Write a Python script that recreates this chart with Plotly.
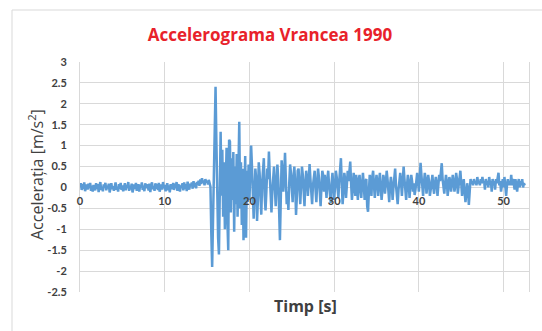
import plotly.graph_objects as go

# ---------------- data ----------------
DT = 0.1  # sampling step [s]
acc = [
    # 0 - 4.9 s
    0.02, 0.10, -0.06, 0.08, -0.04, 0.12, -0.09, 0.03, 0.07, -0.05,
    0.09, -0.02, 0.11, -0.08, 0.04, -0.10, 0.06, 0.01, -0.07, 0.10,
    -0.03, 0.08, -0.11, 0.05, 0.13, -0.06, 0.02, -0.09, 0.07, 0.00,
    0.11, -0.07, 0.04, -0.02, 0.09, -0.12, 0.06, 0.10, -0.04, 0.03,
    -0.08, 0.07, 0.12, -0.05, 0.01, -0.10, 0.08, -0.03, 0.11, -0.06,
    # 5 - 9.9 s
    0.05, -0.09, 0.02, 0.10, -0.07, 0.06, -0.01, 0.13, -0.08, 0.04,
    -0.05, 0.09, -0.12, 0.03, 0.07, -0.04, 0.11, -0.08, 0.01, 0.08,
    -0.10, 0.06, 0.00, 0.12, -0.06, 0.04, -0.09, 0.10, -0.02, 0.07,
    0.03, -0.07, 0.09, -0.11, 0.05, 0.12, -0.04, 0.02, -0.08, 0.10,
    -0.03, 0.08, -0.06, 0.11, -0.10, 0.04, 0.07, -0.05, 0.13, -0.02,
    # 10 - 14.9 s
    0.06, -0.09, 0.03, 0.10, -0.07, 0.05, -0.12, 0.08, 0.01, -0.04,
    0.11, -0.06, 0.09, -0.02, 0.13, -0.08, 0.04, 0.07, -0.10, 0.05,
    -0.01, 0.10, -0.07, 0.12, -0.04, 0.08, -0.09, 0.14, 0.02, -0.05,
    0.09, 0.03, 0.12, -0.03, 0.15, 0.01, 0.10, -0.02, 0.13, 0.06,
    0.16, 0.04, 0.19, 0.08, 0.22, 0.11, 0.17, 0.05, 0.20, 0.12,
    # 15 - 19.9 s
    0.15, 0.07, 0.18, 0.10, 0.02, -1.10, -1.90, -0.80, 0.60, 1.70,
    2.41, 1.10, -0.50, -1.20, -1.60, 0.30, 1.33, -0.20, 0.90, -0.70,
    0.60, -1.00, 0.40, 0.95, -0.80, -1.50, 1.14, 1.10, -0.60, 0.70,
    -0.30, 0.85, -1.06, 0.50, -0.40, 0.80, -0.70, 1.20, 1.57, -0.50,
    0.60, -0.90, 0.45, -1.26, 0.30, 0.75, -1.20, 0.40, -0.35, 0.55,
    # 20 - 24.9 s
    -0.30, 0.40, 1.00, 0.50, -0.40, -0.75, -0.20, 0.45, 0.20, -0.80,
    -0.30, 0.60, 0.35, -0.45, -0.65, 0.10, 0.50, 0.70, -0.20, -0.55,
    -0.10, 0.45, 0.20, 0.86, 0.30, -0.40, -0.60, -0.10, 0.40, 0.50,
    0.00, -0.45, 0.10, 0.55, 0.20, -0.70, -1.26, -0.30, 0.65, 0.40,
    -0.10, 0.30, 0.83, 0.20, -0.40, -0.10, -0.54, 0.10, 0.55, 0.35,
    # 25 - 29.9 s
    -0.20, -0.35, 0.25, 0.50, 0.10, -0.66, -0.20, 0.40, 0.45, -0.10,
    -0.40, 0.05, 0.50, 0.30, -0.25, -0.45, 0.10, 0.40, 0.20, -0.20,
    0.15, 0.56, 0.20, -0.30, -0.40, 0.05, 0.35, 0.40, -0.05, -0.35,
    0.10, 0.45, 0.25, -0.20, -0.45, 0.00, 0.40, 0.30, -0.10, 0.30,
    0.10, -0.25, 0.20, 0.40, 0.05, -0.30, -0.37, 0.10, 0.35, 0.05,
    # 30 - 34.9 s
    -0.30, 0.00, 0.40, 0.25, -0.10, -0.25, 0.15, 0.45, 0.70, 0.10,
    -0.40, -0.10, 0.35, 0.20, -0.25, 0.05, 0.40, 0.15, 0.45, 0.62,
    0.10, -0.30, -0.05, 0.35, 0.15, -0.20, 0.30, 0.05, -0.30, 0.20,
    0.30, -0.05, -0.25, 0.10, 0.35, 0.05, -0.30, 0.15, 0.20, -0.45,
    -0.58, -0.10, 0.30, 0.15, -0.20, 0.25, 0.40, 0.05, -0.25, 0.10,
    # 35 - 39.9 s
    0.30, 0.10, -0.20, 0.15, 0.35, 0.00, -0.30, -0.05, 0.30, 0.20,
    -0.15, 0.10, 0.40, 0.20, -0.20, -0.35, 0.05, 0.25, 0.05, -0.30,
    0.00, 0.35, 0.45, 0.05, -0.25, -0.40, -0.05, 0.25, 0.35, 0.10,
    -0.20, 0.15, 0.50, 0.20, -0.15, -0.30, 0.05, 0.30, 0.10, -0.25,
    0.05, 0.30, 0.15, -0.10, 0.10, -0.18, -0.05, 0.20, 0.35, 0.15,
    # 40 - 44.9 s
    -0.10, 0.20, 0.59, 0.30, -0.05, -0.20, 0.10, 0.35, 0.20, -0.15,
    0.05, 0.30, 0.15, -0.20, -0.05, 0.25, 0.30, 0.00, -0.15, 0.10,
    0.25, 0.10, -0.20, 0.05, 0.30, 0.15, 0.40, 0.58, 0.20, -0.05,
    -0.15, 0.10, 0.30, 0.15, -0.20, 0.00, 0.25, 0.15, -0.10, 0.10,
    0.30, 0.15, -0.10, 0.05, 0.35, 0.20, -0.15, 0.05, 0.25, 0.40,
    # 45 - 49.9 s
    0.10, -0.20, 0.05, 0.20, -0.10, -0.35, -0.15, 0.10, -0.05, -0.42,
    -0.10, 0.20, 0.10, 0.15, 0.05, 0.20, 0.10, 0.15, 0.05, 0.25,
    0.10, 0.15, 0.05, 0.20, 0.10, 0.25, 0.10, 0.15, -0.05, 0.20,
    0.10, 0.15, 0.00, 0.25, 0.10, 0.15, -0.10, 0.20, 0.10, 0.15,
    -0.05, 0.20, 0.10, 0.25, 0.35, 0.05, 0.15, -0.10, 0.10, 0.20,
    # 50 - 52.5 s
    0.00, 0.25, 0.05, -0.20, 0.05, 0.20, 0.05, 0.15, 0.05, 0.30,
    0.05, 0.20, 0.10, -0.05, 0.20, 0.05, -0.10, 0.10, 0.20, 0.00,
    0.15, 0.05, 0.20, 0.00, 0.10, 0.05,
]
time = [round(i * DT, 2) for i in range(len(acc))]

x_ticks = [0, 10, 20, 30, 40, 50]
x_tick_labels = ["0", "10", "20", "30", "40", "50"]
y_ticks = [3, 2.5, 2, 1.5, 1, 0.5, 0, -0.5, -1, -1.5, -2, -2.5]
y_tick_labels = ["3", "2.5", "2", "1.5", "1", "0.5", "0", "-0.5", "-1", "-1.5", "-2", "-2.5"]

title_text = "Accelerograma Vrancea 1990"
x_title = "Timp [s]"
y_title = "Accelerația [m/s<sup>2</sup>]"

# ---------------- figure ----------------
W, H = 542, 331
ML, MR, MT, MB = 80, 13, 62, 39
pw = W - ML - MR
ph = H - MT - MB

def px_x(p):
    return (p - ML) / pw

def px_y(p):
    return (H - MB - p) / ph

YMIN, YMAX = -2.5, 3

fig = go.Figure()
fig.add_trace(go.Scatter(
    x=time, y=acc, mode="lines",
    line=dict(color="#5B9BD5", width=2.5),
    showlegend=False, hoverinfo="skip",
))

FONT = "Lato, 'Open Sans', sans-serif"
TFONT = "'Open Sans', Lato, sans-serif"
fig.update_layout(
    width=W, height=H,
    margin=dict(l=ML, r=MR, t=MT, b=MB),
    paper_bgcolor="white", plot_bgcolor="white",
    font=dict(family=FONT, color="#404040"),
    title=dict(text="<b>" + title_text + "</b>", x=270 / W, xref="container", xanchor="center",
               y=1 - 35 / H, yref="container", yanchor="middle",
               font=dict(size=17, color="#E8222A", family=TFONT)),
    xaxis=dict(range=[0, 53], tickvals=x_ticks, ticktext=x_tick_labels,
               showgrid=True, gridcolor="#D9D9D9", gridwidth=1,
               zeroline=False, showline=False, ticks="",
               anchor="free", position=(0 - YMIN) / (YMAX - YMIN),
               ticklabelstandoff=6,
               tickfont=dict(size=11, color="#404040", family=FONT, weight="bold")),
    yaxis=dict(range=[YMIN, YMAX], tickvals=y_ticks, ticktext=y_tick_labels,
               showgrid=True, gridcolor="#D9D9D9", gridwidth=1,
               zeroline=False, showline=True, mirror=True, linecolor="#D9D9D9", linewidth=1,
               ticks="", ticklabelstandoff=10,
               tickfont=dict(size=11, color="#404040", family=FONT, weight="bold")),
)

fig.add_annotation(text=y_title, xref="paper", yref="paper",
                   x=px_x(36), y=px_y(175), xanchor="center", yanchor="middle",
                   textangle=-90, showarrow=False,
                   font=dict(size=16, color="#404040", family=TFONT))
fig.add_annotation(text="<b>" + x_title + "</b>", xref="paper", yref="paper",
                   x=px_x(305), y=px_y(306), xanchor="center", yanchor="middle",
                   showarrow=False, font=dict(size=16, color="#404040", family=TFONT))

# chart frame
fig.add_shape(type="rect", xref="paper", yref="paper",
              x0=px_x(12), x1=px_x(560), y0=px_y(345), y1=px_y(10),
              line=dict(color="#D9D9D9", width=1), fillcolor="rgba(0,0,0,0)", layer="below")

fig.write_html("out.html")
